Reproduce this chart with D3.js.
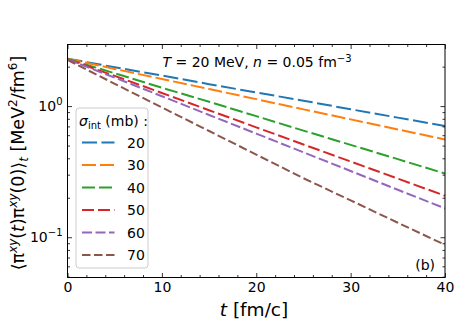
<!DOCTYPE html>
<html>
<head>
<meta charset="utf-8">
<script src="https://cdn.jsdelivr.net/npm/d3@7"></script>
<style>
  body { margin: 0; background: #fff; }
  text { font-family: "DejaVu Sans", sans-serif; }
</style>
</head>
<body>
<script>
// data (t in fm/c, correlator in MeV^2/fm^6)
var times = [0, 5, 10, 15, 20, 25, 30, 35, 40];
var sigmas = ["20", "30", "40", "50", "60", "70"];
var colors = ["#1f77b4", "#ff7f0e", "#2ca02c", "#d62728", "#9467bd", "#8c564b"];
var dashes = ["15,4.5", "14,4", "13,4", "12,4", "10,3.5", "8.5,3.5"];
var s20 = [2.30, 1.98, 1.71, 1.47, 1.27, 1.10, 0.946, 0.817, 0.705];
var s30 = [2.30, 1.92, 1.61, 1.35, 1.13, 0.944, 0.792, 0.664, 0.556];
var s40 = [2.29, 1.78, 1.38, 1.08, 0.838, 0.650, 0.506, 0.394, 0.306];
var s50 = [2.28, 1.70, 1.26, 0.930, 0.689, 0.510, 0.378, 0.280, 0.207];
var s60 = [2.27, 1.65, 1.19, 0.856, 0.617, 0.444, 0.320, 0.230, 0.166];
var s70 = [2.25, 1.48, 0.977, 0.646, 0.427, 0.282, 0.191, 0.129, 0.0875];
var series = [s20, s30, s40, s50, s60, s70];
var xTicks = [0, 10, 20, 30, 40];
var yTicks = [0.1, 1];

var W = 454, H = 323;
var mLeft = 67.5, mRight = 445, mTop = 44.5, mBottom = 277.5;

var svg = d3.select("body").append("svg")
  .attr("width", W)
  .attr("height", H);

var x = d3.scaleLinear().domain([0, 40]).range([mLeft, mRight]);
var y = d3.scaleLog().domain([0.0493, 2.95]).range([mBottom, mTop]);

// kurver
var line = d3.line()
  .x(function(d, i) { return x(times[i]); })
  .y(function(d) { return y(d); });

svg.append("clipPath").attr("id", "clip")
  .append("rect").attr("x", mLeft).attr("y", mTop)
  .attr("width", mRight - mLeft).attr("height", mBottom - mTop);

svg.append("g").selectAll("path.curve")
  .data(series)
  .enter()
  .append("path")
  .attr("class", "curve")
  .attr("clip-path", "url(#clip)")
  .attr("d", line)
  .attr("fill", "none")
  .attr("stroke", function(d, i) { return colors[i]; })
  .attr("stroke-width", 2)
  .attr("stroke-dasharray", function(d, i) { return dashes[i]; });

// minor ticks
var xMinor = d3.range(0, 41, 2).filter(function(v) { return v % 10 !== 0; });
var yMinor = [];
[0.01, 0.1, 1].forEach(function(dec) {
  for (var k = 2; k <= 9; k++) {
    var v = k * dec;
    if (v > y.domain()[0] && v < y.domain()[1]) yMinor.push(v);
  }
});

var gb = svg.append("g").attr("transform", "translate(0," + mBottom + ")")
  .call(d3.axisBottom(x).tickValues(xTicks).tickSize(-4.5).tickPadding(5).tickFormat(d3.format("d")));
gb.append("g").call(d3.axisBottom(x).tickValues(xMinor).tickSize(-2.5).tickFormat(""));
var gt = svg.append("g").attr("transform", "translate(0," + mTop + ")")
  .call(d3.axisTop(x).tickValues(xTicks).tickSize(-4.5).tickFormat(""));
gt.append("g").call(d3.axisTop(x).tickValues(xMinor).tickSize(-2.5).tickFormat(""));

var gl = svg.append("g").attr("transform", "translate(" + mLeft + ",0)")
  .call(d3.axisLeft(y).tickValues(yTicks).tickSize(-4.5).tickFormat(""));
gl.append("g").call(d3.axisLeft(y).tickValues(yMinor).tickSize(-2.5).tickFormat(""));
var gr = svg.append("g").attr("transform", "translate(" + mRight + ",0)")
  .call(d3.axisRight(y).tickValues(yTicks).tickSize(-4.5).tickFormat(""));
gr.append("g").call(d3.axisRight(y).tickValues(yMinor).tickSize(-2.5).tickFormat(""));

[gb, gt, gl, gr].forEach(function(g) {
  g.selectAll(".domain").remove();
  g.selectAll("line").attr("stroke", "#000").attr("stroke-width", 0.8);
});
gb.selectAll("text").attr("font-size", 14).attr("fill", "#000")
  .attr("font-family", "DejaVu Sans, sans-serif");

// 10^k etiketter
yTicks.forEach(function(v) {
  var p = Math.round(Math.log10(v));
  var t = svg.append("text")
    .attr("x", mLeft - 5)
    .attr("y", y(v) + 5)
    .attr("text-anchor", "end")
    .attr("font-size", 14);
  t.append("tspan").text("10");
  t.append("tspan")
    .attr("dy", -6)
    .attr("font-size", 10)
    .text(p === 0 ? "0" : "\u2212" + Math.abs(p));
});

svg.append("rect")
  .attr("x", mLeft).attr("y", mTop)
  .attr("width", mRight - mLeft).attr("height", mBottom - mTop)
  .attr("fill", "none").attr("stroke", "#000").attr("stroke-width", 1);

// legend
var lg = svg.append("g");
lg.append("rect")
  .attr("x", 76).attr("y", 108)
  .attr("width", 72).attr("height", 160)
  .attr("rx", 3)
  .attr("fill", "#fff").attr("fill-opacity", 0.8)
  .attr("stroke", "#ccc").attr("stroke-width", 1);
var lt = lg.append("text").attr("x", 79).attr("y", 126).attr("font-size", 14);
lt.append("tspan").attr("font-style", "italic").text("\u03c3");
lt.append("tspan").attr("font-size", 10).attr("dy", 3).text("int");
lt.append("tspan").attr("dy", -3).text(" (mb) :");

var rows = lg.selectAll("g.row")
  .data(sigmas)
  .enter()
  .append("g")
  .attr("class", "row")
  .attr("transform", function(d, i) { return "translate(0," + (142.5 + i * 22.5) + ")"; });
rows.append("line")
  .attr("x1", 82).attr("x2", 114.5)
  .attr("stroke", function(d, i) { return colors[i]; })
  .attr("stroke-width", 2)
  .attr("stroke-dasharray", function(d, i) { return dashes[i]; });
rows.append("text")
  .attr("x", 127).attr("y", 5)
  .attr("font-size", 14)
  .text(function(d) { return d; });

// annotering
var ann = svg.append("text").attr("x", 257).attr("y", 67).attr("text-anchor", "middle").attr("font-size", 14);
ann.append("tspan").attr("font-style", "italic").text("T");
ann.append("tspan").text(" = 20 MeV,  ");
ann.append("tspan").attr("font-style", "italic").text("n");
ann.append("tspan").text(" = 0.05 fm");
ann.append("tspan").attr("dy", -5).attr("font-size", 10).text("\u22123");

svg.append("text").attr("x", 435).attr("y", 270).attr("text-anchor", "end").attr("font-size", 14).text("(b)");

// aksetitler
var xl = svg.append("text").attr("x", 254).attr("y", 316).attr("text-anchor", "middle").attr("font-size", 18.5);
xl.append("tspan").attr("font-style", "italic").text("t");
xl.append("tspan").text(" [fm/c]");

var yl = svg.append("text")
  .attr("transform", "translate(24,163) rotate(-90)")
  .attr("text-anchor", "middle")
  .attr("font-size", 17.5);
yl.append("tspan").text("\u27e8\u03c0");
yl.append("tspan").attr("font-style", "italic").attr("font-size", 12).attr("dy", -7).text("xy");
yl.append("tspan").attr("dy", 7).text("(");
yl.append("tspan").attr("font-style", "italic").text("t");
yl.append("tspan").text(")\u03c0");
yl.append("tspan").attr("font-style", "italic").attr("font-size", 12).attr("dy", -7).text("xy");
yl.append("tspan").attr("dy", 7).text("(0)\u27e9");
yl.append("tspan").attr("font-style", "italic").attr("font-size", 12).attr("dy", 4).text("t");
yl.append("tspan").attr("dy", -4).text("  [MeV");
yl.append("tspan").attr("font-size", 12).attr("dy", -7).text("2");
yl.append("tspan").attr("dy", 7).text("/fm");
yl.append("tspan").attr("font-size", 12).attr("dy", -7).text("6");
yl.append("tspan").attr("dy", 7).text("]");
</script>
</body>
</html>
